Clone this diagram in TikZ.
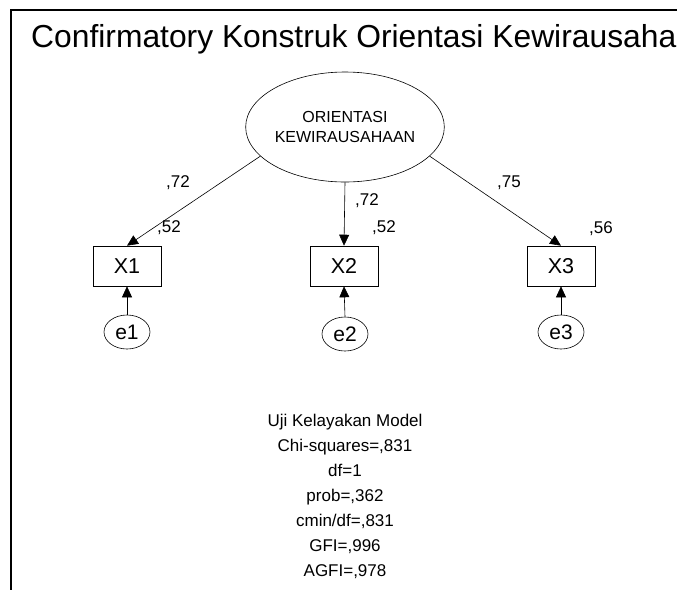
\documentclass[tikz,border=0pt]{standalone}
\usepackage{fontspec}
\setmainfont{Liberation Sans}
\usetikzlibrary{shapes.geometric,arrows.meta}

\tikzset{
  frameline/.style={line width=1.6pt},
  latent/.style={draw, ellipse, line width=0.6pt, minimum width=166pt, minimum height=110pt,
                 inner sep=0pt, align=center, font=\fontsize{16}{20}\selectfont},
  observed/.style={draw, rectangle, line width=0.6pt, minimum width=68pt, minimum height=40pt,
                   inner sep=0pt, font=\fontsize{21.5}{24}\selectfont},
  errterm/.style={draw, ellipse, line width=0.6pt, minimum width=46pt, minimum height=34pt,
                  inner sep=0pt, font=\fontsize{21}{24}\selectfont},
  path/.style={line width=0.6pt, -{Triangle[length=11pt,width=10pt]}},
  coef/.style={inner sep=0pt, font=\fontsize{17}{20}\selectfont},
  fitstats/.style={align=center, inner sep=0pt, font=\fontsize{17}{25}\selectfont}
}

\begin{document}
\begin{tikzpicture}[x=1pt,y=-1pt]
  \useasboundingbox (0,0) rectangle (677,590);
  \fill[white] (0,0) rectangle (677,590);

  % open frame: top and left edges
  \draw[frameline] (677,10) -- (11,10) -- (11,590);

  % heading
  \node[anchor=base west, inner sep=0pt, font=\fontsize{31.8}{36}\selectfont] (title) at (31,47)
    {Confirmatory Konstruk Orientasi Kewirausaha};

  % latent construct
  \node[latent] (lat) at (345,127) {ORIENTASI\\KEWIRAUSAHAAN};

  % indicators
  \node[observed] (x1) at (127,266) {X1};
  \node[observed] (x2) at (344,266) {X2};
  \node[observed] (x3) at (561,266) {X3};

  % error terms
  \node[errterm] (e1) at (127,332) {e1};
  \node[errterm] (e2) at (345,334) {e2};
  \node[errterm] (e3) at (561,332) {e3};

  % loadings
  \draw[path] (lat.199) -- (x1.north);
  \draw[path] (lat.south) -- (x2.north);
  \draw[path] (lat.341) -- (x3.north);

  % error paths
  \draw[path] (e1.north) -- (x1.south);
  \draw[path] (e2.north) -- (x2.south);
  \draw[path] (e3.north) -- (x3.south);

  % standardized loadings and squared multiple correlations
  \node[coef] (l1) at (178,183) {,72};
  \node[coef] (r1) at (169,228) {,52};
  \node[coef] (l2) at (367,201) {,72};
  \node[coef] (r2) at (384,228) {,52};
  \node[coef] (l3) at (509,183) {,75};
  \node[coef] (r3) at (601,229) {,56};

  % goodness-of-fit summary
  \node[fitstats, anchor=north] (fit) at (345,414)
    {Uji Kelayakan Model\\Chi-squares=,831\\df=1\\prob=,362\\cmin/df=,831\\GFI=,996\\AGFI=,978};
\end{tikzpicture}
\end{document}
